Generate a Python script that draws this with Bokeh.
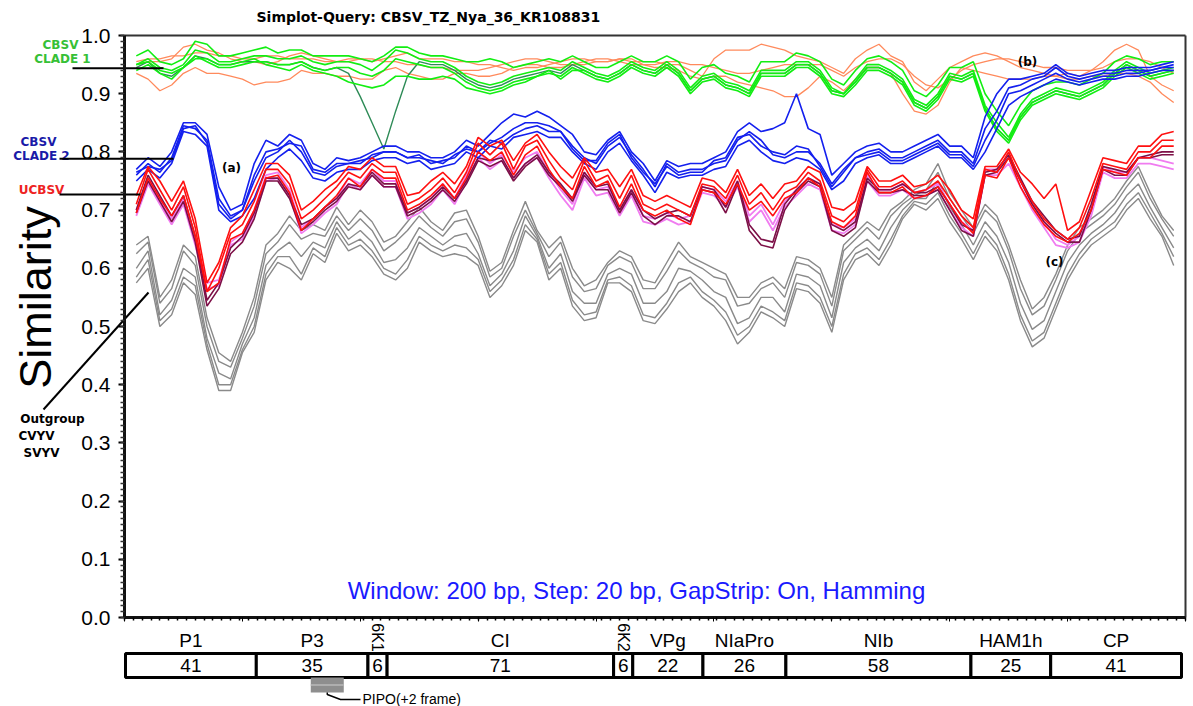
import math
from bokeh.plotting import figure
from bokeh.models import Range1d, FixedTicker, PrintfTickFormatter
from bokeh.core.properties import value
from bokeh.embed import file_html
from bokeh.resources import INLINE

# ---------------- data ----------------
positions = list(range(100, 9000, 100))  # window mid-points (nt), 89 points

blue_a = [0.77, 0.79, 0.775, 0.80, 0.85, 0.85, 0.83, 0.74, 0.70, 0.71,
          0.78, 0.82, 0.81, 0.83, 0.82, 0.78, 0.77, 0.79, 0.785, 0.79,
          0.80, 0.81, 0.81, 0.80, 0.80, 0.79, 0.79, 0.80, 0.82, 0.81,
          0.83, 0.85, 0.865, 0.86, 0.87, 0.86, 0.845, 0.83, 0.80, 0.795,
          0.82, 0.835, 0.80, 0.78, 0.75, 0.785, 0.775, 0.78, 0.78, 0.79,
          0.80, 0.835, 0.85, 0.835, 0.84, 0.85, 0.90, 0.84, 0.83, 0.76,
          0.78, 0.80, 0.81, 0.815, 0.80, 0.80, 0.81, 0.82, 0.83, 0.81,
          0.81, 0.79, 0.86, 0.90, 0.925, 0.925, 0.93, 0.935, 0.95, 0.935,
          0.93, 0.935, 0.94, 0.94, 0.945, 0.945, 0.945, 0.95, 0.955]
blue_b = [0.76, 0.78, 0.765, 0.79, 0.845, 0.84, 0.82, 0.72, 0.69, 0.70,
          0.75, 0.79, 0.80, 0.82, 0.80, 0.765, 0.76, 0.775, 0.78, 0.78,
          0.795, 0.80, 0.80, 0.79, 0.795, 0.78, 0.785, 0.79, 0.81, 0.80,
          0.82, 0.815, 0.83, 0.84, 0.845, 0.835, 0.835, 0.81, 0.79, 0.78,
          0.81, 0.825, 0.795, 0.77, 0.74, 0.78, 0.765, 0.77, 0.77, 0.78,
          0.785, 0.82, 0.835, 0.82, 0.795, 0.79, 0.80, 0.80, 0.78, 0.745,
          0.77, 0.79, 0.80, 0.805, 0.79, 0.79, 0.80, 0.81, 0.82, 0.80,
          0.80, 0.78, 0.84, 0.87, 0.91, 0.915, 0.925, 0.93, 0.945, 0.93,
          0.925, 0.93, 0.935, 0.935, 0.94, 0.94, 0.94, 0.945, 0.95]
blue_c = [0.75, 0.77, 0.755, 0.78, 0.835, 0.83, 0.81, 0.70, 0.68, 0.69,
          0.72, 0.77, 0.79, 0.805, 0.785, 0.755, 0.75, 0.765, 0.77, 0.77,
          0.785, 0.79, 0.79, 0.78, 0.785, 0.77, 0.775, 0.78, 0.80, 0.79,
          0.81, 0.805, 0.825, 0.83, 0.835, 0.825, 0.825, 0.80, 0.78, 0.77,
          0.80, 0.815, 0.785, 0.76, 0.73, 0.765, 0.755, 0.76, 0.76, 0.77,
          0.775, 0.81, 0.82, 0.80, 0.785, 0.78, 0.79, 0.785, 0.77, 0.735,
          0.75, 0.78, 0.79, 0.795, 0.78, 0.78, 0.79, 0.80, 0.81, 0.79,
          0.79, 0.77, 0.80, 0.84, 0.88, 0.895, 0.905, 0.915, 0.925, 0.92,
          0.915, 0.92, 0.925, 0.925, 0.93, 0.93, 0.935, 0.94, 0.94]
blue_d = [0.765, 0.775, 0.77, 0.785, 0.84, 0.845, 0.815, 0.71, 0.685, 0.70,
          0.76, 0.80, 0.805, 0.815, 0.81, 0.77, 0.765, 0.78, 0.78, 0.785,
          0.79, 0.80, 0.80, 0.79, 0.79, 0.785, 0.78, 0.795, 0.805, 0.80,
          0.815, 0.825, 0.84, 0.85, 0.85, 0.845, 0.835, 0.805, 0.785, 0.785,
          0.815, 0.83, 0.79, 0.765, 0.745, 0.775, 0.76, 0.765, 0.765, 0.785,
          0.79, 0.825, 0.83, 0.81, 0.80, 0.795, 0.81, 0.805, 0.775, 0.74,
          0.765, 0.79, 0.795, 0.80, 0.785, 0.785, 0.795, 0.805, 0.815, 0.795,
          0.795, 0.775, 0.82, 0.855, 0.90, 0.905, 0.915, 0.925, 0.935, 0.925,
          0.92, 0.925, 0.93, 0.93, 0.935, 0.935, 0.94, 0.945, 0.945]

green_a = [0.965, 0.975, 0.955, 0.95, 0.96, 0.99, 0.985, 0.965, 0.965, 0.97,
           0.975, 0.98, 0.97, 0.975, 0.975, 0.965, 0.965, 0.965, 0.965, 0.96,
           0.955, 0.965, 0.98, 0.98, 0.97, 0.965, 0.965, 0.96, 0.955, 0.955,
           0.96, 0.955, 0.945, 0.95, 0.955, 0.96, 0.955, 0.965, 0.955, 0.945,
           0.945, 0.955, 0.965, 0.955, 0.955, 0.965, 0.955, 0.925, 0.945, 0.95,
           0.935, 0.93, 0.92, 0.955, 0.955, 0.955, 0.97, 0.965, 0.955, 0.925,
           0.915, 0.94, 0.96, 0.965, 0.955, 0.94, 0.905, 0.895, 0.915, 0.945,
           0.945, 0.955, 0.90, 0.87, 0.845, 0.88, 0.905, 0.915, 0.92, 0.92,
           0.915, 0.925, 0.935, 0.955, 0.965, 0.96, 0.95, 0.955, 0.955]
green_b = [0.95, 0.96, 0.945, 0.94, 0.95, 0.975, 0.97, 0.955, 0.955, 0.96,
           0.965, 0.965, 0.96, 0.96, 0.965, 0.955, 0.95, 0.955, 0.955, 0.95,
           0.94, 0.955, 0.975, 0.97, 0.96, 0.955, 0.955, 0.945, 0.93, 0.92,
           0.915, 0.92, 0.93, 0.935, 0.94, 0.945, 0.94, 0.955, 0.945, 0.935,
           0.93, 0.94, 0.955, 0.945, 0.94, 0.955, 0.94, 0.91, 0.93, 0.935,
           0.92, 0.915, 0.905, 0.94, 0.94, 0.94, 0.955, 0.955, 0.94, 0.91,
           0.90, 0.925, 0.95, 0.95, 0.94, 0.925, 0.89, 0.88, 0.90, 0.935,
           0.93, 0.94, 0.88, 0.85, 0.825, 0.865, 0.89, 0.90, 0.91, 0.905,
           0.90, 0.91, 0.92, 0.94, 0.955, 0.945, 0.935, 0.94, 0.945]
green_c = [0.94, 0.95, 0.935, 0.925, 0.945, 0.965, 0.955, 0.945, 0.945, 0.95,
           0.955, 0.955, 0.95, 0.95, 0.955, 0.945, 0.94, 0.945, 0.945, 0.935,
           0.93, 0.94, 0.96, 0.955, 0.95, 0.945, 0.945, 0.935, 0.92, 0.91,
           0.905, 0.91, 0.92, 0.925, 0.93, 0.935, 0.93, 0.945, 0.935, 0.925,
           0.92, 0.93, 0.945, 0.935, 0.93, 0.945, 0.93, 0.90, 0.92, 0.925,
           0.91, 0.905, 0.895, 0.93, 0.93, 0.93, 0.945, 0.945, 0.93, 0.90,
           0.895, 0.915, 0.94, 0.94, 0.93, 0.915, 0.88, 0.87, 0.89, 0.925,
           0.92, 0.93, 0.87, 0.835, 0.815, 0.855, 0.88, 0.89, 0.90, 0.895,
           0.89, 0.90, 0.91, 0.93, 0.945, 0.935, 0.925, 0.93, 0.935]
green_d = [0.95, 0.955, 0.94, 0.935, 0.945, 0.96, 0.96, 0.95, 0.95, 0.955,
           0.96, 0.95, 0.945, 0.94, 0.95, 0.94, 0.935, 0.93, 0.92, 0.915,
           0.91, 0.915, 0.93, 0.93, 0.925, 0.925, 0.93, 0.925, 0.91, 0.905,
           0.90, 0.905, 0.915, 0.92, 0.93, 0.94, 0.925, 0.94, 0.94, 0.93,
           0.925, 0.935, 0.95, 0.94, 0.935, 0.95, 0.935, 0.905, 0.925, 0.93,
           0.915, 0.91, 0.90, 0.935, 0.935, 0.935, 0.95, 0.95, 0.935, 0.905,
           0.90, 0.92, 0.945, 0.945, 0.935, 0.92, 0.885, 0.875, 0.895, 0.93,
           0.925, 0.935, 0.875, 0.84, 0.82, 0.86, 0.885, 0.895, 0.905, 0.90,
           0.895, 0.905, 0.915, 0.935, 0.95, 0.94, 0.93, 0.935, 0.94]
darkgreen = [0.945, 0.955, 0.935, 0.93, 0.945, 0.965, 0.96, 0.95, 0.95, 0.955,
             0.955, 0.955, 0.95, 0.95, 0.955, 0.945, 0.94, 0.945, 0.935, 0.895,
             0.85, 0.805, 0.87, 0.93, 0.955, 0.95, 0.95, 0.94, 0.925, 0.915,
             0.91, 0.915, 0.925, 0.93, 0.935, 0.94, 0.935, 0.95, 0.94, 0.93,
             0.925, 0.935, 0.95, 0.94, 0.935, 0.95, 0.935, 0.905, 0.925, 0.93,
             0.915, 0.91, 0.90, 0.935, 0.935, 0.935, 0.95, 0.95, 0.935, 0.905,
             0.90, 0.92, 0.945, 0.945, 0.935, 0.92, 0.885, 0.875, 0.895, 0.93,
             0.925, 0.935, 0.875, 0.84, 0.82, 0.86, 0.885, 0.895, 0.905, 0.90,
             0.895, 0.905, 0.915, 0.935, 0.95, 0.94, 0.93, 0.935, 0.94]

orange_1 = [0.95, 0.955, 0.955, 0.96, 0.98, 0.985, 0.975, 0.97, 0.96, 0.955,
            0.955, 0.95, 0.955, 0.965, 0.97, 0.965, 0.96, 0.955, 0.955, 0.96,
            0.955, 0.96, 0.965, 0.97, 0.96, 0.96, 0.96, 0.955, 0.955, 0.95,
            0.95, 0.945, 0.94, 0.945, 0.945, 0.95, 0.955, 0.96, 0.96, 0.955,
            0.955, 0.96, 0.955, 0.955, 0.955, 0.95, 0.95, 0.94, 0.93, 0.96,
            0.975, 0.975, 0.975, 0.985, 0.98, 0.975, 0.965, 0.96, 0.955, 0.945,
            0.935, 0.96, 0.975, 0.985, 0.965, 0.955, 0.92, 0.905, 0.925, 0.945,
            0.955, 0.965, 0.97, 0.965, 0.955, 0.945, 0.94, 0.935, 0.93, 0.935,
            0.93, 0.94, 0.955, 0.975, 0.985, 0.975, 0.93, 0.915, 0.905]
orange_2 = [0.935, 0.925, 0.905, 0.915, 0.935, 0.945, 0.935, 0.935, 0.93, 0.925,
            0.915, 0.92, 0.92, 0.925, 0.94, 0.935, 0.935, 0.93, 0.93, 0.925,
            0.925, 0.94, 0.945, 0.935, 0.93, 0.925, 0.925, 0.935, 0.935, 0.93,
            0.93, 0.935, 0.945, 0.95, 0.95, 0.945, 0.945, 0.95, 0.95, 0.955,
            0.955, 0.96, 0.96, 0.95, 0.945, 0.945, 0.94, 0.93, 0.925, 0.93,
            0.93, 0.92, 0.915, 0.91, 0.905, 0.895, 0.895, 0.91, 0.93, 0.92,
            0.905, 0.925, 0.945, 0.945, 0.935, 0.90, 0.87, 0.865, 0.88, 0.92,
            0.945, 0.94, 0.935, 0.93, 0.925, 0.925, 0.925, 0.93, 0.93, 0.925,
            0.925, 0.93, 0.93, 0.935, 0.935, 0.93, 0.92, 0.90, 0.885]
orange_3 = [0.955, 0.96, 0.96, 0.965, 0.965, 0.97, 0.97, 0.965, 0.965, 0.96,
            0.96, 0.965, 0.965, 0.96, 0.96, 0.96, 0.955, 0.955, 0.96, 0.96,
            0.96, 0.955, 0.955, 0.95, 0.95, 0.945, 0.945, 0.94, 0.94, 0.94,
            0.945, 0.95, 0.955, 0.96, 0.96, 0.955, 0.95, 0.95, 0.955, 0.96,
            0.96, 0.955, 0.95, 0.95, 0.95, 0.955, 0.955, 0.95, 0.95, 0.945,
            0.94, 0.935, 0.935, 0.94, 0.945, 0.95, 0.95, 0.95, 0.95, 0.94,
            0.93, 0.945, 0.955, 0.96, 0.96, 0.95, 0.93, 0.915, 0.91, 0.925,
            0.94, 0.95, 0.955, 0.96, 0.96, 0.955, 0.95, 0.945, 0.945, 0.94,
            0.94, 0.94, 0.945, 0.955, 0.96, 0.96, 0.955, 0.945, 0.935]

red_a = [0.725, 0.775, 0.75, 0.715, 0.75, 0.685, 0.575, 0.61, 0.67, 0.69,
         0.735, 0.78, 0.78, 0.76, 0.70, 0.715, 0.735, 0.75, 0.775, 0.77,
         0.79, 0.775, 0.775, 0.725, 0.73, 0.75, 0.765, 0.745, 0.775, 0.825,
         0.81, 0.82, 0.785, 0.815, 0.83, 0.80, 0.775, 0.755, 0.79, 0.765,
         0.77, 0.74, 0.77, 0.725, 0.715, 0.725, 0.715, 0.705, 0.755, 0.75,
         0.73, 0.77, 0.725, 0.745, 0.72, 0.745, 0.75, 0.775, 0.765, 0.705,
         0.70, 0.715, 0.775, 0.75, 0.75, 0.76, 0.74, 0.745, 0.76, 0.735,
         0.70, 0.685, 0.775, 0.775, 0.805, 0.765, 0.745, 0.72, 0.745, 0.665,
         0.68, 0.735, 0.79, 0.785, 0.78, 0.81, 0.81, 0.83, 0.835]
red_b = [0.71, 0.77, 0.735, 0.70, 0.74, 0.67, 0.56, 0.60, 0.66, 0.675,
         0.715, 0.77, 0.77, 0.745, 0.685, 0.70, 0.72, 0.74, 0.765, 0.755,
         0.78, 0.765, 0.765, 0.71, 0.72, 0.735, 0.755, 0.73, 0.765, 0.815,
         0.795, 0.815, 0.77, 0.81, 0.82, 0.785, 0.755, 0.735, 0.785, 0.75,
         0.76, 0.72, 0.76, 0.71, 0.70, 0.71, 0.70, 0.69, 0.745, 0.74,
         0.72, 0.76, 0.71, 0.73, 0.70, 0.73, 0.74, 0.765, 0.75, 0.69,
         0.68, 0.70, 0.77, 0.74, 0.74, 0.75, 0.73, 0.735, 0.75, 0.72,
         0.69, 0.67, 0.77, 0.765, 0.80, 0.75, 0.715, 0.685, 0.665, 0.65,
         0.67, 0.72, 0.78, 0.775, 0.77, 0.80, 0.80, 0.82, 0.82]
red_c = [0.695, 0.755, 0.72, 0.69, 0.725, 0.655, 0.56, 0.575, 0.65, 0.66,
         0.70, 0.755, 0.76, 0.73, 0.665, 0.685, 0.705, 0.725, 0.755, 0.74,
         0.77, 0.755, 0.755, 0.70, 0.71, 0.725, 0.745, 0.72, 0.755, 0.80,
         0.785, 0.80, 0.76, 0.795, 0.81, 0.77, 0.74, 0.72, 0.775, 0.74,
         0.75, 0.705, 0.745, 0.70, 0.69, 0.70, 0.685, 0.675, 0.735, 0.73,
         0.71, 0.745, 0.70, 0.715, 0.69, 0.72, 0.73, 0.755, 0.74, 0.68,
         0.67, 0.69, 0.765, 0.73, 0.73, 0.74, 0.72, 0.725, 0.74, 0.71,
         0.68, 0.66, 0.76, 0.755, 0.79, 0.74, 0.705, 0.675, 0.655, 0.645,
         0.66, 0.70, 0.77, 0.765, 0.76, 0.79, 0.79, 0.81, 0.81]
violet_a = [0.70, 0.755, 0.72, 0.685, 0.72, 0.65, 0.575, 0.58, 0.645, 0.66,
            0.70, 0.76, 0.765, 0.735, 0.67, 0.685, 0.705, 0.72, 0.755, 0.745,
            0.77, 0.75, 0.75, 0.695, 0.705, 0.72, 0.745, 0.72, 0.76, 0.80,
            0.78, 0.795, 0.765, 0.79, 0.80, 0.765, 0.735, 0.71, 0.765, 0.735,
            0.74, 0.70, 0.735, 0.69, 0.685, 0.695, 0.685, 0.69, 0.74, 0.735,
            0.715, 0.75, 0.69, 0.71, 0.675, 0.715, 0.735, 0.755, 0.745, 0.675,
            0.67, 0.685, 0.76, 0.735, 0.735, 0.745, 0.73, 0.735, 0.745, 0.71,
            0.68, 0.665, 0.77, 0.77, 0.79, 0.75, 0.71, 0.68, 0.65, 0.64,
            0.655, 0.70, 0.775, 0.765, 0.765, 0.79, 0.79, 0.785, 0.78]
violet_b = [0.69, 0.745, 0.71, 0.675, 0.71, 0.64, 0.565, 0.57, 0.64, 0.65,
            0.69, 0.75, 0.755, 0.725, 0.66, 0.675, 0.695, 0.71, 0.745, 0.735,
            0.76, 0.74, 0.74, 0.685, 0.695, 0.71, 0.735, 0.71, 0.75, 0.79,
            0.77, 0.785, 0.755, 0.78, 0.79, 0.755, 0.725, 0.70, 0.755, 0.725,
            0.73, 0.69, 0.725, 0.68, 0.675, 0.685, 0.675, 0.68, 0.73, 0.725,
            0.705, 0.74, 0.68, 0.70, 0.665, 0.705, 0.725, 0.745, 0.735, 0.665,
            0.66, 0.675, 0.75, 0.725, 0.725, 0.735, 0.72, 0.725, 0.735, 0.70,
            0.67, 0.655, 0.76, 0.76, 0.78, 0.74, 0.70, 0.67, 0.64, 0.635,
            0.645, 0.69, 0.765, 0.755, 0.755, 0.78, 0.78, 0.775, 0.77]
maroon_a = [0.70, 0.76, 0.725, 0.69, 0.725, 0.655, 0.545, 0.575, 0.635, 0.655,
            0.695, 0.755, 0.755, 0.725, 0.675, 0.685, 0.705, 0.72, 0.745, 0.74,
            0.765, 0.745, 0.745, 0.695, 0.705, 0.72, 0.74, 0.72, 0.75, 0.79,
            0.785, 0.79, 0.755, 0.78, 0.795, 0.765, 0.745, 0.72, 0.765, 0.74,
            0.745, 0.70, 0.735, 0.70, 0.685, 0.695, 0.70, 0.69, 0.74, 0.735,
            0.705, 0.75, 0.675, 0.65, 0.645, 0.71, 0.735, 0.755, 0.745, 0.675,
            0.665, 0.68, 0.755, 0.735, 0.735, 0.745, 0.73, 0.73, 0.74, 0.71,
            0.675, 0.665, 0.765, 0.77, 0.795, 0.755, 0.715, 0.69, 0.665, 0.65,
            0.655, 0.71, 0.775, 0.77, 0.765, 0.79, 0.795, 0.80, 0.80]
maroon_b = [0.695, 0.75, 0.715, 0.68, 0.715, 0.645, 0.535, 0.565, 0.625, 0.645,
            0.685, 0.75, 0.75, 0.72, 0.665, 0.68, 0.70, 0.715, 0.74, 0.735,
            0.76, 0.74, 0.74, 0.69, 0.70, 0.715, 0.735, 0.715, 0.745, 0.785,
            0.775, 0.785, 0.75, 0.775, 0.79, 0.76, 0.74, 0.715, 0.76, 0.735,
            0.735, 0.695, 0.73, 0.69, 0.675, 0.69, 0.69, 0.68, 0.735, 0.73,
            0.695, 0.745, 0.665, 0.64, 0.635, 0.70, 0.73, 0.75, 0.74, 0.665,
            0.655, 0.67, 0.75, 0.73, 0.73, 0.735, 0.725, 0.725, 0.735, 0.70,
            0.665, 0.655, 0.76, 0.765, 0.79, 0.75, 0.71, 0.68, 0.66, 0.645,
            0.645, 0.70, 0.77, 0.76, 0.76, 0.79, 0.79, 0.795, 0.795]

gray_a = [0.64, 0.655, 0.55, 0.58, 0.64, 0.62, 0.515, 0.455, 0.44, 0.49,
          0.55, 0.64, 0.66, 0.69, 0.665, 0.675, 0.665, 0.705, 0.675, 0.70,
          0.68, 0.645, 0.655, 0.68, 0.705, 0.68, 0.665, 0.695, 0.70, 0.655,
          0.595, 0.61, 0.665, 0.715, 0.665, 0.635, 0.655, 0.60, 0.57, 0.58,
          0.61, 0.63, 0.62, 0.58, 0.575, 0.61, 0.645, 0.62, 0.61, 0.60,
          0.59, 0.55, 0.55, 0.575, 0.585, 0.565, 0.62, 0.615, 0.60, 0.55,
          0.64, 0.66, 0.68, 0.665, 0.70, 0.715, 0.735, 0.745, 0.78, 0.73,
          0.70, 0.67, 0.71, 0.69, 0.64, 0.58, 0.53, 0.55, 0.59, 0.64,
          0.67, 0.685, 0.70, 0.72, 0.75, 0.775, 0.73, 0.69, 0.665]
gray_b = [0.625, 0.645, 0.54, 0.565, 0.63, 0.605, 0.50, 0.44, 0.43, 0.48,
          0.535, 0.625, 0.645, 0.675, 0.65, 0.66, 0.655, 0.69, 0.665, 0.685,
          0.665, 0.63, 0.645, 0.665, 0.69, 0.67, 0.655, 0.68, 0.685, 0.645,
          0.585, 0.60, 0.655, 0.70, 0.66, 0.62, 0.645, 0.585, 0.56, 0.565,
          0.605, 0.62, 0.61, 0.565, 0.565, 0.595, 0.63, 0.61, 0.60, 0.585,
          0.58, 0.535, 0.54, 0.565, 0.575, 0.55, 0.61, 0.605, 0.59, 0.535,
          0.63, 0.65, 0.67, 0.65, 0.69, 0.71, 0.725, 0.735, 0.765, 0.72,
          0.69, 0.66, 0.70, 0.68, 0.63, 0.565, 0.52, 0.535, 0.58, 0.63,
          0.66, 0.675, 0.69, 0.71, 0.74, 0.765, 0.72, 0.685, 0.655]
gray_c = [0.60, 0.63, 0.52, 0.545, 0.60, 0.585, 0.48, 0.42, 0.41, 0.47,
          0.515, 0.605, 0.63, 0.645, 0.62, 0.645, 0.635, 0.68, 0.65, 0.665,
          0.645, 0.61, 0.615, 0.635, 0.67, 0.655, 0.64, 0.655, 0.66, 0.625,
          0.57, 0.59, 0.63, 0.69, 0.655, 0.60, 0.625, 0.56, 0.54, 0.54,
          0.59, 0.60, 0.59, 0.54, 0.54, 0.56, 0.60, 0.595, 0.58, 0.56,
          0.55, 0.505, 0.515, 0.55, 0.55, 0.525, 0.59, 0.585, 0.57, 0.515,
          0.61, 0.635, 0.65, 0.63, 0.67, 0.70, 0.72, 0.72, 0.75, 0.705,
          0.675, 0.64, 0.68, 0.655, 0.61, 0.54, 0.495, 0.51, 0.56, 0.61,
          0.64, 0.66, 0.675, 0.695, 0.725, 0.745, 0.705, 0.67, 0.635]
gray_d = [0.585, 0.615, 0.51, 0.53, 0.585, 0.57, 0.47, 0.40, 0.40, 0.46,
          0.50, 0.59, 0.62, 0.62, 0.59, 0.635, 0.62, 0.67, 0.64, 0.65,
          0.63, 0.60, 0.59, 0.615, 0.655, 0.64, 0.63, 0.64, 0.635, 0.615,
          0.56, 0.58, 0.615, 0.675, 0.65, 0.59, 0.61, 0.545, 0.52, 0.525,
          0.58, 0.585, 0.57, 0.52, 0.515, 0.54, 0.575, 0.585, 0.56, 0.545,
          0.525, 0.485, 0.50, 0.535, 0.525, 0.51, 0.575, 0.57, 0.55, 0.50,
          0.59, 0.625, 0.635, 0.615, 0.65, 0.69, 0.715, 0.71, 0.73, 0.69,
          0.66, 0.625, 0.665, 0.64, 0.59, 0.52, 0.475, 0.49, 0.54, 0.59,
          0.625, 0.65, 0.665, 0.68, 0.71, 0.73, 0.695, 0.66, 0.62]
gray_e = [0.575, 0.60, 0.50, 0.52, 0.575, 0.555, 0.46, 0.39, 0.39, 0.455,
          0.49, 0.58, 0.61, 0.60, 0.58, 0.625, 0.61, 0.66, 0.63, 0.64,
          0.62, 0.59, 0.58, 0.60, 0.645, 0.63, 0.62, 0.625, 0.62, 0.605,
          0.55, 0.57, 0.605, 0.665, 0.645, 0.58, 0.60, 0.535, 0.51, 0.515,
          0.575, 0.575, 0.56, 0.51, 0.505, 0.53, 0.56, 0.575, 0.55, 0.535,
          0.51, 0.47, 0.49, 0.525, 0.515, 0.50, 0.565, 0.56, 0.54, 0.49,
          0.58, 0.615, 0.625, 0.605, 0.64, 0.685, 0.71, 0.70, 0.72, 0.68,
          0.65, 0.615, 0.655, 0.63, 0.58, 0.51, 0.465, 0.48, 0.53, 0.58,
          0.615, 0.64, 0.655, 0.67, 0.70, 0.72, 0.685, 0.655, 0.605]

y_ticks = [0.0, 0.1, 0.2, 0.3, 0.4, 0.5, 0.6, 0.7, 0.8, 0.9, 1.0]
genome_len = 9000

gene_names = ["P1", "P3", "6K1", "CI", "6K2", "VPg", "NIaPro", "NIb", "HAM1h", "CP"]
gene_kda = [41, 35, 6, 71, 6, 22, 26, 58, 25, 41]
pipo_range = (1580, 1860)

title_text = "Simplot-Query: CBSV_TZ_Nya_36_KR108831"
window_text = "Window: 200 bp, Step: 20 bp, GapStrip: On, Hamming"

# ---------------- geometry ----------------
W, H = 1193, 706
PAGE = 0
X0 = 124.0            # page x of genome position 0
NT_PX = 1061.0 / genome_len
Y0 = 617.0            # page y of similarity 0
SIM_PX = 582.0

def dx(px):
    return (px - X0) / NT_PX

def dy(py):
    return (Y0 - py) / SIM_PX

p = figure(width=W, height=H, output_backend="svg", toolbar_location=None,
           x_range=Range1d(dx(PAGE), dx(PAGE + W)),
           y_range=Range1d(dy(PAGE + H), dy(PAGE)),
           min_border=0, outline_line_color=None,
           background_fill_color="white", border_fill_color="white")
p.grid.visible = False

ya = p.yaxis[0]
ya.fixed_location = 0
ya.bounds = (0, 1)
ya.ticker = FixedTicker(ticks=y_ticks, minor_ticks=[i / 100 for i in range(101)])
ya.formatter = PrintfTickFormatter(format="%.1f")
ya.major_label_text_font = "Liberation Sans"
ya.major_label_text_font_size = "21px"
ya.major_label_text_color = "black"
ya.major_label_standoff = 8
ya.axis_line_width = 3
ya.axis_line_color = "#111111"
ya.major_tick_in = 0
ya.major_tick_out = 6
ya.minor_tick_in = 0
ya.minor_tick_out = 4
ya.major_tick_line_width = 2
ya.minor_tick_line_width = 1.5
ya.minor_tick_line_color = "#333333"

xa = p.xaxis[0]
xa.fixed_location = 0
xa.bounds = (0, genome_len)
xa.ticker = FixedTicker(ticks=list(range(0, genome_len + 1, 1000)),
                        minor_ticks=list(range(0, genome_len + 1, 75)))
xa.major_label_text_color = None
xa.axis_line_width = 3
xa.axis_line_color = "#111111"
xa.major_tick_in = 0
xa.major_tick_out = 4
xa.minor_tick_in = 0
xa.minor_tick_out = 3
xa.minor_tick_line_width = 1.5

p.segment(x0=[0, genome_len], y0=[1, 0], x1=[genome_len, genome_len], y1=[1, 1],
          line_color="#333333", line_width=2)

# ---------------- similarity curves ----------------
groups = [
    ("#8a8a8a", 1.4, [gray_a, gray_b, gray_c, gray_d, gray_e]),
    ("#ff8a5c", 1.3, [orange_2, orange_3, orange_1]),
    ("#2e8b57", 1.4, [darkgreen]),
    ("#12ee12", 1.6, [green_d, green_c, green_a, green_b]),
    ("#f07cf0", 1.8, [violet_a, violet_b]),
    ("#7d1047", 1.6, [maroon_a, maroon_b]),
    ("#1420ee", 1.6, [blue_c, blue_d, blue_a, blue_b]),
    ("#ff1010", 1.6, [red_c, red_a, red_b]),
]
for color, lw, series in groups:
    for ys in series:
        n = min(len(positions), len(ys))
        p.line(positions[:n], ys[:n], line_color=color, line_width=lw)

# ---------------- annotation texts ----------------
def label(px, py, txt, size, color="black", bold=False, font="Liberation Sans",
          align="center", baseline="middle", angle=0.0):
    p.text(x=[dx(px)], y=[dy(py)], text=[txt], text_font=value(font),
           text_font_size=f"{size}px", text_font_style="bold" if bold else "normal",
           text_color=color, text_align=align, text_baseline=baseline, angle=angle)

label(256, 16, title_text, 14, bold=True, font="DejaVu Sans", align="left")
label(35, 297, "Similarity", 45, angle=math.pi / 2)
label(636, 590, window_text, 24, color="#1a1aff")

label(60, 44, "CBSV", 12, color="#36c036", bold=True, font="DejaVu Sans")
label(62, 58, "CLADE 1", 12, color="#36c036", bold=True, font="DejaVu Sans")
label(38, 141, "CBSV", 12, color="#1a1aa8", bold=True, font="DejaVu Sans")
label(41, 155, "CLADE 2", 12, color="#1a1aa8", bold=True, font="DejaVu Sans")
label(41, 189, "UCBSV", 12, color="#ee2222", bold=True, font="DejaVu Sans")
label(52, 418, "Outgroup", 12, bold=True, font="DejaVu Sans")
label(36, 435, "CVYV", 12, bold=True, font="DejaVu Sans")
label(41, 452, "SVYV", 12, bold=True, font="DejaVu Sans")
label(231, 167, "(a)", 12, bold=True, font="DejaVu Sans")
label(1027, 61, "(b)", 12, bold=True, font="DejaVu Sans")
label(1054, 261, "(c)", 12, bold=True, font="DejaVu Sans")

p.segment(x0=[dx(72), dx(59), dx(59), dx(43)],
          y0=[dy(67.7), dy(158.3), dy(194), dy(409)],
          x1=[dx(163), dx(173), dx(140), dx(148)],
          y1=[dy(67.7), dy(158.3), dy(194), dy(292)],
          line_color="black", line_width=2)

# ---------------- genome map ----------------
map_left, map_right = dx(125), dx(1181)
scale = (map_right - map_left) / sum(gene_kda)
edges = [map_left]
for k in gene_kda:
    edges.append(edges[-1] + k * scale)
box_top, box_bot = dy(653), dy(677)
p.quad(left=edges[:-1], right=edges[1:], top=box_top, bottom=box_bot,
       fill_color="white", line_color="black", line_width=3)
centers = [(a + b) / 2 for a, b in zip(edges[:-1], edges[1:])]
p.text(x=centers, y=[(box_top + box_bot) / 2] * len(centers),
       text=[str(k) for k in gene_kda], text_font=value("Liberation Sans"),
       text_font_size="19px", text_align="center", text_baseline="middle",
       text_color="black")
flat = [i for i, n in enumerate(gene_names) if not n.startswith("6K")]
p.text(x=[centers[i] for i in flat], y=[dy(640)] * len(flat),
       text=[gene_names[i] for i in flat], text_font=value("Liberation Sans"),
       text_font_size="19px", text_align="center", text_baseline="middle",
       text_color="black")
rot = [i for i, n in enumerate(gene_names) if n.startswith("6K")]
p.text(x=[centers[i] for i in rot], y=[dy(637)] * len(rot),
       text=[gene_names[i] for i in rot], text_font=value("Liberation Sans"),
       text_font_size="16px", text_align="center", text_baseline="middle",
       text_color="black", angle=-math.pi / 2)

p.quad(left=pipo_range[0], right=pipo_range[1], top=dy(677), bottom=dy(692),
       fill_color="#8e8e8e", line_color=None)
p.segment(x0=pipo_range[0], y0=dy(684.5), x1=pipo_range[1], y1=dy(684.5),
          line_color="#b8b8b8", line_width=1.5)
pipo_mid = (pipo_range[0] + pipo_range[1]) / 2
p.line([pipo_mid, pipo_mid, dx(340), dx(360)],
       [dy(692), dy(694), dy(699), dy(699)], line_color="black", line_width=1.5)
label(362, 698, "PIPO(+2 frame)", 14, align="left")

open("out.html", "w").write(file_html(p, INLINE))
